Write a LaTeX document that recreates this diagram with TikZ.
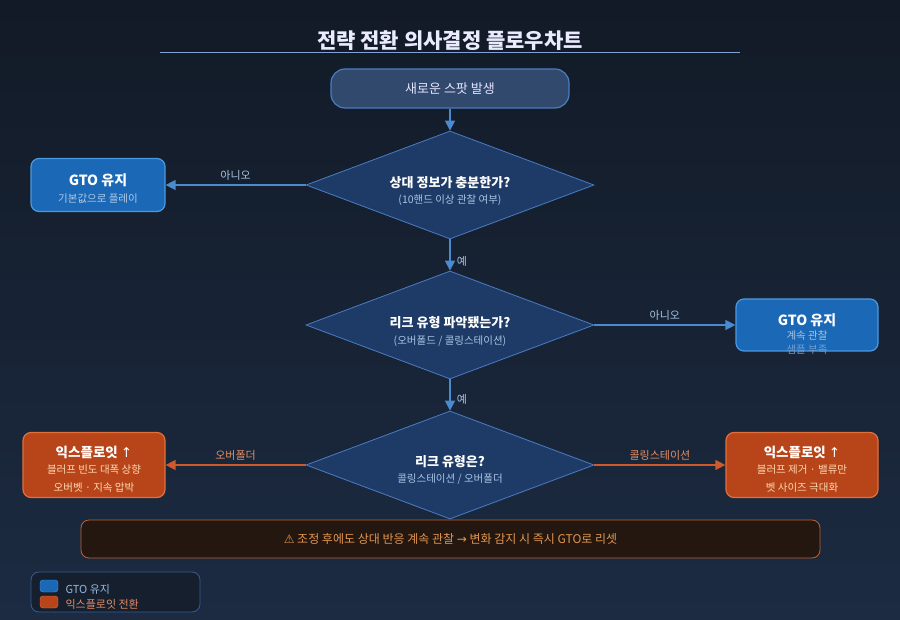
\documentclass[tikz,border=0pt]{standalone}
\usepackage{fontspec}
\setmainfont{Noto Sans CJK KR}
\newfontfamily\symf{DejaVu Sans}
\usetikzlibrary{shapes.geometric,arrows.meta}
\definecolor{bgtop}{HTML}{121A26}
\definecolor{bgbot}{HTML}{1C2B42}
\definecolor{bluef}{HTML}{1A68B6}
\definecolor{blueb}{HTML}{4A9AE0}
\definecolor{diaf}{HTML}{1E3B68}
\definecolor{diab}{HTML}{4A7CC2}
\definecolor{bluel}{HTML}{4A8AD0}
\definecolor{oraf}{HTML}{B8441A}
\definecolor{orab}{HTML}{E0703A}
\definecolor{oral}{HTML}{D0582A}
\definecolor{subt}{HTML}{A8C4E4}
\begin{document}
\begin{tikzpicture}[x=1pt,y=-1pt,
  box/.style={draw,rounded corners=8pt,line width=1.2pt,align=center,inner sep=0pt},
  dia/.style={draw=diab,fill=diaf,diamond,aspect=2.67,minimum width=288pt,minimum height=108pt,inner sep=0pt,line width=0.8pt,align=center},
  barr/.style={draw=bluel,line width=1.3pt,-{Triangle[length=10pt,width=10pt]}},
  oarr/.style={draw=oral,line width=1.3pt,-{Triangle[length=10pt,width=10pt]}},
  lbl/.style={font=\fontsize{11}{13}\selectfont,text=subt},
  ttl/.style={font=\fontsize{13}{15}\selectfont\bfseries,text=white},
  sub/.style={font=\fontsize{10.5}{12}\selectfont,text=subt}]
\shade[top color=bgtop,bottom color=bgbot] (0,0) rectangle (900,620);
\useasboundingbox (0,0) rectangle (900,620);
\node[font=\fontsize{21}{24}\selectfont\bfseries,text=white!92!blue] (title) at (450,41) {전략 전환 의사결정 플로우차트};
\draw[color=diab!70,line width=0.6pt] (160,52) -- (740,52);
\node[box,draw=diab,fill=diaf!80!gray,rounded corners=14pt,minimum width=238pt,minimum height=39pt,font=\fontsize{13}{15}\selectfont,text=white!90!blue] (start) at (450,88.5) {새로운 스팟 발생};
\node[dia] (d1) at (450,185) {};
\node[ttl] at (450,183) {상대 정보가 충분한가?};
\node[sub] at (450,200) {(10핸드 이상 관찰 여부)};
\node[dia] (d2) at (450,325) {};
\node[ttl] at (450,323) {리크 유형 파악됐는가?};
\node[sub] at (450,341) {(오버폴드 / 콜링스테이션)};
\node[dia] (d3) at (450,465) {};
\node[ttl] at (450,462) {리크 유형은?};
\node[sub] at (450,479) {콜링스테이션 / 오버폴더};
\node[box,draw=blueb,fill=bluef,minimum width=134pt,minimum height=53pt] (g1) at (98,185) {};
\node[font=\fontsize{14}{16}\selectfont\bfseries,text=white] at (98,180) {GTO 유지};
\node[sub,text=subt!90!white] at (98,199) {기본값으로 플레이};
\node[box,draw=blueb,fill=bluef,minimum width=142pt,minimum height=52pt] (g2) at (807,325) {};
\node[font=\fontsize{14}{16}\selectfont\bfseries,text=white] at (807,320) {GTO 유지};
\node[sub] at (807,336) {계속 관찰};
\node[sub,text=subt!60!bluef] at (807,350) {샘플 부족};
\node[box,draw=orab,fill=oraf,minimum width=142pt,minimum height=65pt] (e1) at (94,465) {};
\node[font=\fontsize{13.5}{16}\selectfont\bfseries,text=white] at (94,452) {익스플로잇 {\symf\mdseries ↑}};
\node[sub,text=orange!30!white] at (94,470) {블러프 빈도 대폭 상향};
\node[sub,text=orange!30!white] at (94,488) {오버벳 · 지속 압박};
\node[box,draw=orab,fill=oraf,minimum width=152pt,minimum height=65pt] (e2) at (802,465) {};
\node[font=\fontsize{13.5}{16}\selectfont\bfseries,text=white] at (802,452) {익스플로잇 {\symf\mdseries ↑}};
\node[sub,text=orange!30!white] at (802,470) {블러프 제거 · 밸류만};
\node[sub,text=orange!30!white] at (802,488) {벳 사이즈 극대화};
\draw[barr] (start) -- (d1.north);
\draw[barr] (d1.west) -- (g1.east) node[lbl,midway,above=1pt] {아니오};
\draw[barr] (d1.south) -- (d2.north) node[lbl,pos=0.7,right=3pt] {예};
\draw[barr] (d2.east) -- (g2.west) node[lbl,midway,above=1pt] {아니오};
\draw[barr] (d2.south) -- (d3.north) node[lbl,pos=0.65,right=3pt] {예};
\draw[oarr] (d3.west) -- (e1.east) node[lbl,text=orab!80!white,midway,above=1pt] {오버폴더};
\draw[oarr] (d3.east) -- (e2.west) node[lbl,text=orab!80!white,midway,above=1pt] {콜링스테이션};
\node[box,draw=orab!85!black,fill={rgb,255:red,35;green,23;blue,15},line width=0.8pt,minimum width=739pt,minimum height=38pt,font=\fontsize{12}{14}\selectfont,text={rgb,255:red,228;green,150;blue,80}] (warn) at (450.5,539) {{\symf ⚠} 조정 후에도 상대 반응 계속 관찰 {\symf →} 변화 감지 시 즉시 GTO로 리셋};
\node[box,draw=diab!60!bgbot,fill=bgtop!70!bgbot,line width=0.8pt,minimum width=169pt,minimum height=40pt] (leg) at (115.5,592) {};
\node[draw=blueb,fill=bluef,rounded corners=3pt,minimum width=18pt,minimum height=12pt,inner sep=0pt] (s1) at (49,586) {};
\node[draw=orab,fill=oraf,rounded corners=3pt,minimum width=18pt,minimum height=12pt,inner sep=0pt] (s2) at (49,602) {};
\node[lbl,anchor=west,text=subt!80!bluel] at (62,589) {GTO 유지};
\node[lbl,anchor=west,text=orab!80!white] at (62,604) {익스플로잇 전환};
\end{tikzpicture}
\end{document}
